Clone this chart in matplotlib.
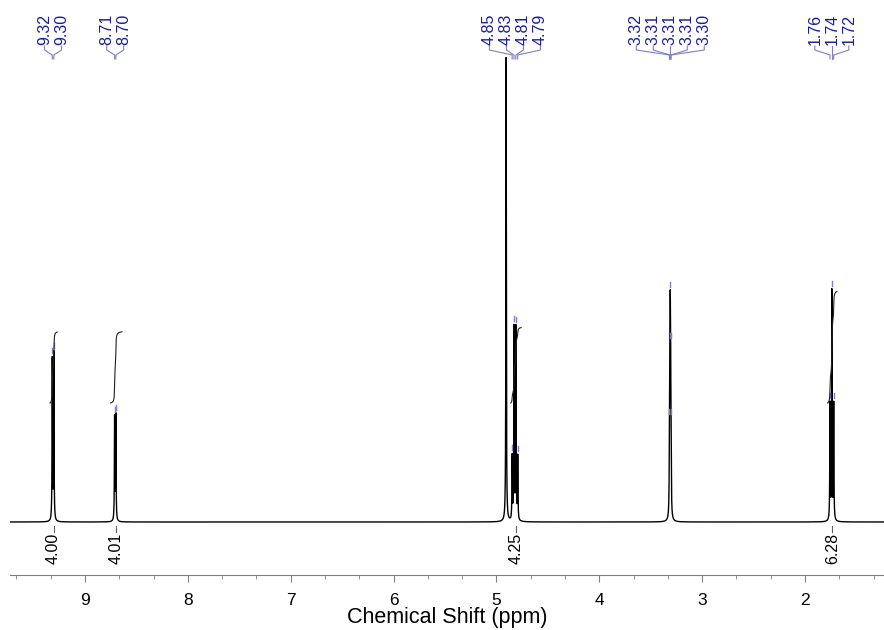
import numpy as np
import matplotlib.pyplot as plt
from matplotlib.ticker import MultipleLocator

plt.rcParams['font.family'] = ['Liberation Sans', 'DejaVu Sans']

# picked peaks (ppm) and peak heights of each multiplet
doublet_a_ppm = [9.318, 9.303]
doublet_a_height = [161, 167]
doublet_b_ppm = [8.712, 8.700]
doublet_b_height = [103, 105]
quartet_ppm = [4.847, 4.829, 4.811, 4.793]
quartet_height = [63, 192, 192, 63]
pentet_ppm = [3.318, 3.314, 3.310, 3.306, 3.302]
pentet_height = [54, 108, 162, 108, 54]
triplet_ppm = [1.757, 1.739, 1.721]
triplet_height = [116, 229, 116]
water_ppm = [4.906]
water_height = [464]

# integration regions and normalised integrals
integral_ranges = [(9.34, 9.27), (8.75, 8.64), (4.86, 4.76), (1.78, 1.69)]
integral_values = [4.00, 4.01, 4.25, 6.28]

x_left, x_right = 9.729, 1.232
gamma = 0.0025


def lorentz(x, x0, h):
    return h / (1 + ((x - x0) / gamma) ** 2)


ppm = np.linspace(x_left, x_right, 60000)
all_ppm = doublet_a_ppm + doublet_b_ppm + quartet_ppm + pentet_ppm + triplet_ppm + water_ppm
all_height = (doublet_a_height + doublet_b_height + quartet_height + pentet_height
              + triplet_height + water_height)
spec = np.zeros_like(ppm)
for p, h in zip(all_ppm, all_height):
    spec += lorentz(ppm, p, h)


def spec_at(p):
    return sum(lorentz(p, q, h) for q, h in zip(all_ppm, all_height))


fig = plt.figure(figsize=(8.84, 6.30), dpi=100)
ax = fig.add_axes([10 / 884, 55 / 630, 874 / 884, 575 / 630])
ax.set_xlim(x_left, x_right)
ax.set_ylim(-53, 522)

ax.plot(ppm, spec, color='black', lw=1.0)

ppm_per_px = (x_left - x_right) / 874
label_color = '#1a1aa6'
link_color = '#7f7fc4'

# peak labels with connector lines
groups = [doublet_a_ppm, doublet_b_ppm, quartet_ppm, pentet_ppm, triplet_ppm]
for g in groups:
    n = len(g)
    center = np.mean(g)
    step = 17 * ppm_per_px
    for i, p in enumerate(g):
        lp = center + ((n - 1) / 2 - i) * step
        ax.text(lp, 477, '%.2f' % p, rotation=90, ha='center', va='bottom',
                fontsize=11.5, color=label_color)
        ax.plot([lp, lp, p, p], [476, 472, 467, 463], color=link_color, lw=0.8)
        top = spec_at(p)
        ax.plot([p, p], [top + 3, top + 8], color=link_color, lw=1.0)

# integral curves and their values under the baseline
for (hi, lo), val in zip(integral_ranges, integral_values):
    m = (ppm <= hi) & (ppm >= lo)
    cum = np.cumsum(spec[m])
    cum = cum / cum[-1]
    ax.plot(ppm[m], 119 + cum * val * 17.75, color='#202020', lw=0.8)
    c = (hi + lo) / 2
    ax.plot([c, c], [-4, -10], color='#606060', lw=0.8)
    ax.text(c, -11, '%.2f' % val, rotation=90, ha='center', va='top', fontsize=11.5,
            color='black')

for s in ['left', 'right', 'top']:
    ax.spines[s].set_visible(False)
ax.spines['bottom'].set_color('#808080')
ax.set_yticks([])
ax.xaxis.set_major_locator(MultipleLocator(1))
ax.xaxis.set_minor_locator(MultipleLocator(1 / 3))
ax.tick_params(axis='x', which='major', length=5, color='#808080', labelsize=12.5, pad=8)
ax.tick_params(axis='x', which='minor', length=3, color='#808080')
ax.set_xlabel('Chemical Shift (ppm)', fontsize=15.5, labelpad=-1)

fig.savefig('out.png', dpi=100)
